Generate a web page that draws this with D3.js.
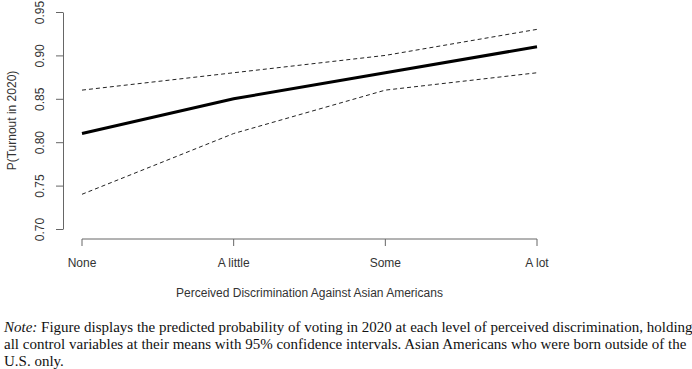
<!DOCTYPE html>
<html lang="en">
    <head>
        <meta charset="utf-8">
        <title>Predicted turnout by perceived discrimination</title>
        <script type="text/javascript" src="https://d3js.org/d3.v7.min.js"></script>
        <style type="text/css">
            body { margin: 0; background: white; }
            .axis text { font-family: "Liberation Sans", Arial, sans-serif; font-size: 12px; fill: #333; }
            .axis path, .axis line { stroke: #666; }
            .note { font-family: "Liberation Serif", "Times New Roman", serif; font-size: 15px; fill: #111; }
        </style>
    </head>
    <body>
        <script type="text/javascript">

        // Width and Height
        var w = 692;
        var h = 369;

        // Data
        var categories = ["None", "A little", "Some", "A lot"];
        var predicted = [0.81, 0.85, 0.88, 0.91];
        var upper = [0.86, 0.88, 0.90, 0.93];
        var lower = [0.74, 0.81, 0.86, 0.88];
        var yTicks = [0.70, 0.75, 0.80, 0.85, 0.90, 0.95];

        var noteLines = [
            "Figure displays the predicted probability of voting in 2020 at each level of perceived discrimination, holding",
            "all control variables at their means with 95% confidence intervals. Asian Americans who were born outside of the",
            "U.S. only."
        ];

        // Scales
        var x = d3.scalePoint()
                .domain(categories)
                .range([82, 537]);

        var y = d3.scaleLinear()
                .domain([0.70, 0.95])
                .range([229, 12]);

        var svg = d3.select("body")
                    .append("svg")
                    .attr("width", w)
                    .attr("height", h);

        // Y axis (R style: labels parallel to the axis)
        var yAxis = svg.append("g")
                .attr("class", "axis")
                .attr("transform", "translate(63,0)")
                .call(d3.axisLeft(y).tickValues(yTicks).tickFormat(d3.format(".2f")).tickSize(7).tickSizeOuter(0));
        yAxis.selectAll(".tick text")
                .attr("transform", "rotate(-90)")
                .attr("x", 0)
                .attr("y", -23)
                .attr("dy", "0.35em")
                .attr("text-anchor", "middle");

        // X axis
        var xAxis = svg.append("g")
                .attr("class", "axis")
                .attr("transform", "translate(0,239)")
                .call(d3.axisBottom(x).tickSize(7).tickSizeOuter(0).offset(0));
        xAxis.selectAll(".tick text").attr("y", 19).attr("dy", "0.71em");

        // Axis titles
        svg.append("text")
            .attr("transform", "translate(16," + ((y(0.70) + y(0.95)) / 2) + ") rotate(-90)")
            .attr("text-anchor", "middle")
            .style("font-family", "Liberation Sans, Arial, sans-serif")
            .style("font-size", "12px")
            .style("fill", "#333")
            .text("P(Turnout in 2020)");

        svg.append("text")
            .attr("x", (x("None") + x("A lot")) / 2)
            .attr("y", 297)
            .attr("text-anchor", "middle")
            .style("font-family", "Liberation Sans, Arial, sans-serif")
            .style("font-size", "12px")
            .style("fill", "#333")
            .text("Perceived Discrimination Against Asian Americans");

        // Lines
        var line = d3.line()
                .x(function(d, i){ return x(categories[i]); })
                .y(function(d){ return y(d); });

        // 95% confidence bounds
        [upper, lower].forEach(function(s){
            svg.append("path")
                .datum(s)
                .attr("fill", "none")
                .attr("stroke", "#222")
                .attr("stroke-width", 1)
                .attr("stroke-dasharray", "4,3")
                .attr("d", line);
        });

        // Predicted probability
        svg.append("path")
            .datum(predicted)
            .attr("fill", "none")
            .attr("stroke", "#000")
            .attr("stroke-width", 3)
            .attr("d", line);

        // Note
        var note = svg.append("text")
                .attr("class", "note");
        noteLines.forEach(function(t, i){
            var ts = note.append("tspan")
                .attr("x", 4)
                .attr("y", 332 + i * 17);
            if (i === 0) {
                ts.append("tspan").style("font-style", "italic").text("Note:");
                ts.append("tspan").text(" " + t);
            } else {
                ts.text(t);
            }
        });
        </script>
    </body>
</html>
